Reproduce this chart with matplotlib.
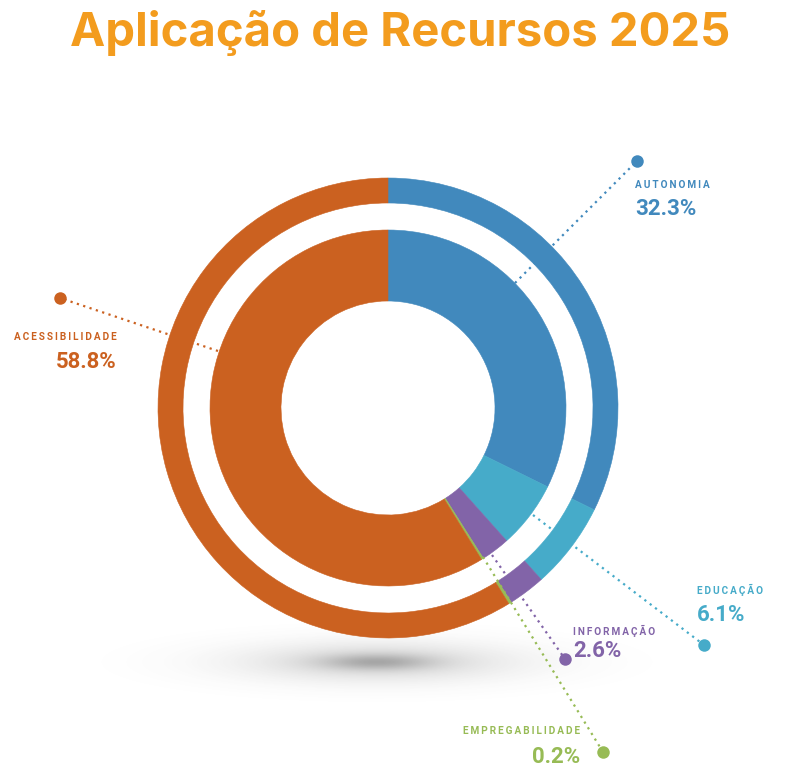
import numpy as np
import matplotlib
matplotlib.use("Agg")
import matplotlib.pyplot as plt

# data
labels = ["AUTONOMIA", "EDUCAÇÃO", "INFORMAÇÃO", "EMPREGABILIDADE", "ACESSIBILIDADE"]
values = [32.3, 6.1, 2.6, 0.2, 58.8]
colors = ["#4189BD", "#46ABC9", "#8264A8", "#97BB55", "#CB6120"]

W, H = 797, 784
fig = plt.figure(figsize=(W / 100, H / 100), dpi=100)
ax = fig.add_axes([0, 0, 1, 1])

cx, cy = 388, H - 408

# soft shadow below the donut (gaussian blob)
sx, sy = 377, H - 662
xs = np.linspace(-320, 320, 640)
ys = np.linspace(-80, 80, 160)
gx, gy = np.meshgrid(xs, ys)
r2 = (gx / 205) ** 2 + (gy / 30) ** 2
alpha = 0.22 * np.exp(-r2 / 0.45) + 0.28 * np.exp(-r2 / 0.07)
shadow = np.zeros(gx.shape + (4,))
shadow[..., :3] = 0.3
shadow[..., 3] = np.clip(alpha, 0, 1)
ax.imshow(shadow, extent=(sx - 320, sx + 320, sy - 80, sy + 80),
          interpolation="bilinear", zorder=0, aspect="auto")

outer, _ = ax.pie(values, radius=230, center=(cx, cy), startangle=90,
                  counterclock=False, colors=colors, wedgeprops=dict(width=25))
inner, _ = ax.pie(values, radius=178, center=(cx, cy), startangle=90,
                  counterclock=False, colors=colors, wedgeprops=dict(width=71))
for w in outer + inner:
    w.set_edgecolor(w.get_facecolor())
    w.set_linewidth(0.4)
    w.set_zorder(2)

ax.set_xlim(0, W)
ax.set_ylim(0, H)
ax.set_aspect("auto")
ax.axis("off")

# leader lines (start on ring, end at dot), in pixel coords from the top
leaders = {
    "AUTONOMIA": ((515, 283), (637, 161)),
    "EDUCAÇÃO": ((533, 515), (704, 645)),
    "INFORMAÇÃO": ((492, 555), (565, 659)),
    "EMPREGABILIDADE": ((483, 557), (603, 752)),
    "ACESSIBILIDADE": ((218, 351), (60, 298)),
}
# label anchor: (x, y_name, y_value, ha)
anchors = {
    "AUTONOMIA": (635, 185, 209, "left"),
    "EDUCAÇÃO": (697, 590, 615, "left"),
    "INFORMAÇÃO": (573, 631, 651, "left"),
    "EMPREGABILIDADE": (580, 731, 757, "right"),
    "ACESSIBILIDADE": (117, 337, 362, "right"),
}

fam = ["Roboto", "DejaVu Sans"]
for lab, val, col in zip(labels, values, colors):
    (x0, y0), (x1, y1) = leaders[lab]
    ax.plot([x0, x1], [H - y0, H - y1], color=col, lw=1.6,
            linestyle=(0, (1, 2)), zorder=3)
    ax.plot(x1, H - y1, "o", color=col, ms=9, mec="none", zorder=4)
    x, yn, yv, ha = anchors[lab]
    spaced = "\u2009".join(lab)
    ax.text(x, H - yn, spaced, color=col, fontsize=7.2, fontweight="bold",
            family=fam, ha=ha, va="center")
    ax.text(x, H - yv, f"{val:.1f}%", color=col, fontsize=16, fontweight="bold",
            family=fam, ha=ha, va="center")

fig.text(400 / W, 1 - 33 / H, "Aplicação de Recursos 2025", color="#F39C1E",
         fontsize=34, fontweight="bold", family=["Inter", "DejaVu Sans"],
         ha="center", va="center")

fig.savefig("out.png", dpi=100)
